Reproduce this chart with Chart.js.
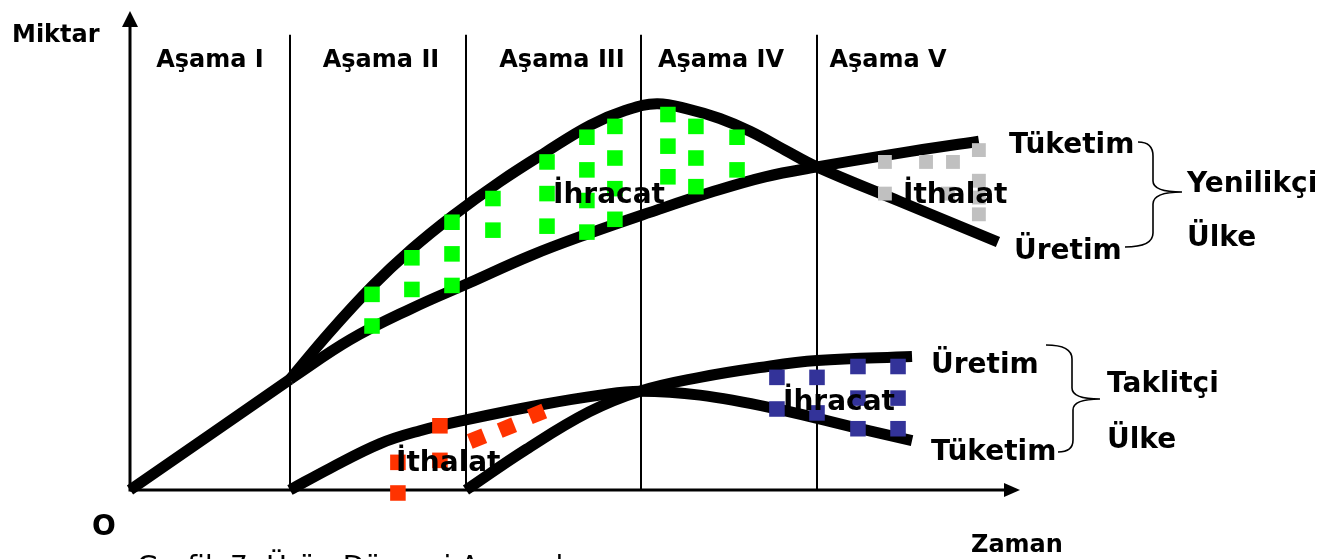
<!DOCTYPE html>
<html lang="tr">
<head>
<meta charset="utf-8">
<script src="https://cdn.jsdelivr.net/npm/chart.js@4.4.1/dist/chart.umd.min.js"></script>
<style>
html,body{margin:0;padding:0;background:#fff;overflow:hidden}
#wrap{position:relative;width:1326px;height:559px}
</style>
</head>
<body>
<div id="wrap"><canvas id="c"></canvas></div>
<script>
// x: Zaman, y: Miktar
const asamaSinirlari = [9.14, 19.2, 29.2, 39.26];
const asamaEtiketleri = ['Aşama I', 'Aşama II', 'Aşama III', 'Aşama IV', 'Aşama V'];

// Yenilikçi ülke: Aşama I'de üretim = tüketim
const yenilikciOrtakX = [0, 9.14];
const yenilikciOrtakY = [0, 23.33];

const yenilikciUretimX = [9.14, 11.43, 13.83, 16.11, 18.4, 21.14, 23.77, 26.29, 28.29, 30.11, 32.0, 33.71, 35.43, 37.43, 39.26, 44.0, 49.6];
const yenilikciUretimY = [23.33, 33.33, 42.92, 50.83, 57.71, 65.0, 71.25, 76.88, 80.0, 81.46, 80.21, 78.33, 75.63, 71.67, 68.13, 60.83, 52.29];

const yenilikciTuketimX = [9.14, 12.57, 16.0, 19.43, 22.86, 26.29, 29.71, 33.14, 36.29, 39.26, 44.0, 48.51];
const yenilikciTuketimY = [23.33, 31.67, 38.13, 43.75, 49.38, 54.17, 58.54, 62.71, 66.04, 68.13, 71.04, 73.54];

// Taklitçi ülke
const taklitciTuketimX = [9.14, 11.43, 14.29, 16.57, 19.2, 23.43, 26.86, 29.14, 32.57, 36.97, 41.71, 44.69];
const taklitciTuketimY = [0, 4.58, 9.79, 12.5, 14.79, 17.92, 20.0, 20.83, 20.0, 17.08, 12.92, 10.42];

const taklitciUretimX = [19.2, 22.63, 26.23, 29.14, 32.57, 36.0, 39.26, 44.69];
const taklitciUretimY = [0, 8.54, 16.46, 20.83, 23.75, 25.83, 27.29, 28.13];

// Noktalı alanlar
const yenilikciIhracatX = [13.83, 13.83, 16.11, 16.11, 18.4, 18.4, 18.4, 20.74, 20.74, 23.83, 23.83, 23.83, 26.11, 26.11, 26.11, 26.11, 27.71, 27.71, 27.71, 27.71, 30.74, 30.74, 30.74, 32.34, 32.34, 32.34, 34.69, 34.69];
const yenilikciIhracatY = [41.25, 34.58, 48.96, 42.29, 56.46, 49.79, 43.13, 61.46, 54.79, 69.17, 62.5, 55.63, 74.38, 67.5, 61.04, 54.38, 76.67, 70.0, 63.54, 57.08, 79.17, 72.5, 66.04, 76.67, 70.0, 63.96, 74.38, 67.5];

const yenilikciIthalatX = [43.14, 45.49, 47.03, 48.51, 48.51, 48.51, 48.51, 43.14, 46.74];
const yenilikciIthalatY = [69.17, 69.17, 69.17, 71.67, 65.21, 61.67, 58.13, 62.5, 62.5];

const taklitciIthalatX = [17.71, 15.31, 17.71, 15.31];
const taklitciIthalatY = [13.54, 5.83, 6.25, -0.63];
const taklitciIthalatEgikX = [19.83, 21.54, 23.26];
const taklitciIthalatEgikY = [10.83, 13.13, 16.04];

const taklitciIhracatX = [36.97, 39.26, 41.6, 43.89, 36.97, 39.26, 41.6, 43.89, 41.6, 43.89];
const taklitciIhracatY = [23.75, 23.75, 26.04, 26.04, 17.08, 16.25, 19.38, 19.38, 12.92, 12.92];

const zip = (xs, ys) => xs.map((v, i) => ({x: v, y: ys[i]}));

function egri(label, xs, ys) {
  return {
    label, data: zip(xs, ys), showLine: true, borderColor: '#000', borderWidth: 11,
    borderCapStyle: 'butt', borderJoinStyle: 'round', tension: 0.4,
    pointRadius: 0, pointHoverRadius: 0, clip: false, order: 2, fill: false
  };
}
function noktalar(label, xs, ys, color, r, rot) {
  return {
    label, data: zip(xs, ys), showLine: false, pointStyle: 'rect', pointRadius: r,
    pointHoverRadius: r, backgroundColor: color, borderColor: color, borderWidth: 0,
    rotation: rot || 0, clip: false, order: 1
  };
}

const FONT = '"DejaVu Sans", Verdana, sans-serif';

const cizimEklentisi = {
  id: 'cizim',
  beforeDatasetsDraw(chart) {
    const {ctx, scales: {x, y}} = chart;
    ctx.save();
    ctx.strokeStyle = '#000';
    ctx.fillStyle = '#000';
    ctx.lineWidth = 2;
    asamaSinirlari.forEach(t => {
      const px = Math.round(x.getPixelForValue(t));
      ctx.beginPath();
      ctx.moveTo(px, y.getPixelForValue(96));
      ctx.lineTo(px, y.getPixelForValue(0));
      ctx.stroke();
    });
    const x0 = x.getPixelForValue(0), y0 = y.getPixelForValue(0);
    const xEnd = x.getPixelForValue(x.max), yEnd = y.getPixelForValue(y.max);
    ctx.lineWidth = 3;
    ctx.beginPath(); ctx.moveTo(x0, y0); ctx.lineTo(xEnd - 12, y0); ctx.stroke();
    ctx.beginPath(); ctx.moveTo(x0, y0 + 1.5); ctx.lineTo(x0, yEnd + 12); ctx.stroke();
    ctx.beginPath(); ctx.moveTo(xEnd, y0); ctx.lineTo(xEnd - 16, y0 - 7); ctx.lineTo(xEnd - 16, y0 + 7); ctx.closePath(); ctx.fill();
    ctx.beginPath(); ctx.moveTo(x0, yEnd); ctx.lineTo(x0 - 8, yEnd + 16); ctx.lineTo(x0 + 8, yEnd + 16); ctx.closePath(); ctx.fill();
    ctx.restore();
  },
  afterDatasetsDraw(chart) {
    const {ctx} = chart;
    ctx.save();
    ctx.fillStyle = '#000';
    ctx.textBaseline = 'alphabetic';
    const t = (s, px, py, size, align, weight) => {
      ctx.font = (weight || 'bold') + ' ' + size + 'px ' + FONT;
      ctx.textAlign = align || 'left';
      ctx.fillText(s, px, py);
    };
    t('Miktar', 12, 42, 24);
    const asamaMerkez = [210, 381, 562, 721, 888];
    asamaEtiketleri.forEach((s, i) => t(s, asamaMerkez[i], 67, 24, 'center'));
    t('İhracat', 553, 203, 28);
    t('İthalat', 903, 203, 28);
    t('Tüketim', 1009, 153, 28);
    t('Üretim', 1014, 259, 28);
    t('Yenilikçi', 1187, 192, 28);
    t('Ülke', 1187, 246, 28);
    t('İhracat', 783, 410, 28);
    t('İthalat', 396, 471, 28);
    t('Üretim', 931, 373, 28);
    t('Tüketim', 931, 460, 28);
    t('Taklitçi', 1107, 392, 28);
    t('Ülke', 1107, 448, 28);
    t('O', 92, 535, 28);
    t('Zaman', 971, 552, 24);
    t('Grafik 7: Ürün Dönemi Aşamaları', 137, 576, 28, 'left', 'normal');

    // küme parantezleri
    ctx.strokeStyle = '#000';
    ctx.lineWidth = 1.6;
    ctx.beginPath();
    ctx.moveTo(1138, 142);
    ctx.quadraticCurveTo(1153, 142, 1153, 156);
    ctx.lineTo(1153, 181);
    ctx.quadraticCurveTo(1153, 192, 1182, 192);
    ctx.quadraticCurveTo(1153, 192, 1153, 204);
    ctx.lineTo(1153, 233);
    ctx.quadraticCurveTo(1153, 247, 1125, 247);
    ctx.stroke();

    ctx.beginPath();
    ctx.moveTo(1046, 345);
    ctx.quadraticCurveTo(1072, 345, 1072, 359);
    ctx.lineTo(1072, 388);
    ctx.quadraticCurveTo(1072, 399, 1100, 399);
    ctx.quadraticCurveTo(1073, 399, 1073, 410);
    ctx.lineTo(1073, 440);
    ctx.quadraticCurveTo(1073, 452, 1058, 452);
    ctx.stroke();
    ctx.restore();
  }
};

new Chart(document.getElementById('c'), {
  type: 'scatter',
  data: {
    datasets: [
      noktalar('Yenilikçi İhracat', yenilikciIhracatX, yenilikciIhracatY, '#00FF00', 11),
      noktalar('Yenilikçi İthalat', yenilikciIthalatX, yenilikciIthalatY, '#C0C0C0', 9.8),
      noktalar('Taklitçi İthalat', taklitciIthalatX, taklitciIthalatY, '#FF3300', 11),
      noktalar('Taklitçi İthalat (eğik)', taklitciIthalatEgikX, taklitciIthalatEgikY, '#FF3300', 11, -22),
      noktalar('Taklitçi İhracat', taklitciIhracatX, taklitciIhracatY, '#333399', 11),
      egri('Yenilikçi Üretim = Tüketim', yenilikciOrtakX, yenilikciOrtakY),
      egri('Yenilikçi Üretim', yenilikciUretimX, yenilikciUretimY),
      egri('Yenilikçi Tüketim', yenilikciTuketimX, yenilikciTuketimY),
      egri('Taklitçi Tüketim', taklitciTuketimX, taklitciTuketimY),
      egri('Taklitçi Üretim', taklitciUretimX, taklitciUretimY)
    ]
  },
  options: {
    responsive: true,
    maintainAspectRatio: false,
    animation: false,
    events: [],
    layout: {padding: {left: 130, right: 306, top: 5, bottom: 69}},
    plugins: {legend: {display: false}, tooltip: {enabled: false}, title: {display: false}},
    scales: {
      x: {type: 'linear', min: 0, max: 50.86, display: false},
      y: {type: 'linear', min: 0, max: 101, display: false}
    }
  },
  plugins: [cizimEklentisi]
});
</script>
</body>
</html>
